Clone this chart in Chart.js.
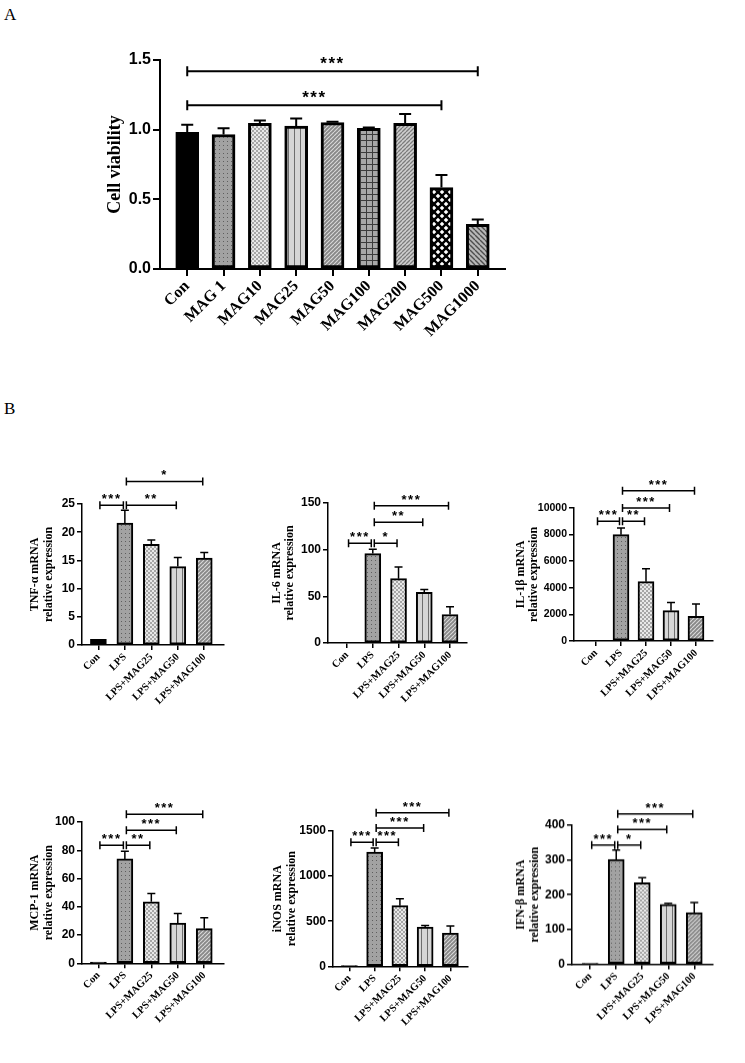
<!DOCTYPE html>
<html lang="en">
<head>
<meta charset="UTF-8">
<title>Cell viability and cytokine mRNA expression</title>
<script src="https://cdn.jsdelivr.net/npm/chart.js@4.4.1/dist/chart.umd.min.js"></script>
<style>
  * { box-sizing: border-box; margin: 0; padding: 0; }
  html, body { width: 745px; height: 1063px; background: #fff; overflow: hidden; }
  body { position: relative; font-family: 'Liberation Serif', 'Times New Roman', serif; }
  .tag { position: absolute; font-size: 17px; color: #000; }
  .box { position: absolute; }
</style>
</head>
<body>
<div class="tag" style="left:4px;top:5px">A</div>
<div class="tag" style="left:4px;top:399px">B</div>
<div class="box"><canvas id="chart-a"></canvas></div>
<div class="box"><canvas id="chart-tnf"></canvas></div>
<div class="box"><canvas id="chart-il6"></canvas></div>
<div class="box"><canvas id="chart-il1b"></canvas></div>
<div class="box"><canvas id="chart-mcp1"></canvas></div>
<div class="box"><canvas id="chart-inos"></canvas></div>
<div class="box"><canvas id="chart-ifn"></canvas></div>

<script>
const SERIF = "'Liberation Serif', 'Times New Roman', serif";
const SANS = "'Liberation Sans', Arial, sans-serif";

// Panel A - cell viability
const viabilityLabels = ['Con', 'MAG 1', 'MAG10', 'MAG25', 'MAG50', 'MAG100', 'MAG200', 'MAG500', 'MAG1000'];
const viabilityMean   = [0.98, 0.965, 1.045, 1.025, 1.05, 1.01, 1.045, 0.585, 0.32];
const viabilityErrTop = [1.035, 1.01, 1.065, 1.08, 1.057, 1.016, 1.113, 0.675, 0.355];
const viabilityTicks  = [0, 0.5, 1.0, 1.5];
// [from, to, height, stars]
const viabilitySig    = [[0, 8, 1.42, '***'], [0, 7, 1.175, '***']];

// Panel B - relative mRNA expression
const groupLabels = ['Con', 'LPS', 'LPS+MAG25', 'LPS+MAG50', 'LPS+MAG100'];

const tnfMean   = [1.0, 21.6, 17.85, 13.9, 15.4];
const tnfErrTop = [1.0, 23.9, 18.6, 15.5, 16.4];
const tnfTicks  = [0, 5, 10, 15, 20, 25];
const tnfSig    = [[0, 1, 24.8, '***'], [1, 3, 24.8, '**'], [1, 4, 29.0, '*']];

const il6Mean   = [0.5, 95.8, 68.9, 54.2, 30.5];
const il6ErrTop = [0.5, 100.5, 81.4, 57.4, 38.8];
const il6Ticks  = [0, 50, 100, 150];
const il6Sig    = [[0, 1, 107, '***'], [1, 2, 107, '*'], [1, 3, 129.5, '**'], [1, 4, 147, '***']];

const il1bMean   = [20, 7995, 4460, 2280, 1850];
const il1bErrTop = [20, 8500, 5440, 2900, 2780];
const il1bTicks  = [0, 2000, 4000, 6000, 8000, 10000];
const il1bSig    = [[0, 1, 9000, '***'], [1, 2, 9000, '**'], [1, 3, 10000, '***'], [1, 4, 11300, '***']];

const mcp1Mean   = [0.95, 73.9, 43.5, 28.5, 24.5];
const mcp1ErrTop = [0.95, 79.3, 49.4, 35.3, 32.2];
const mcp1Ticks  = [0, 20, 40, 60, 80, 100];
const mcp1Sig    = [[0, 1, 83.5, '***'], [1, 2, 83.5, '**'], [1, 3, 94.1, '***'], [1, 4, 105.4, '***']];

const inosMean   = [1, 1267, 672, 436, 369];
const inosErrTop = [1, 1311, 750, 451, 447];
const inosTicks  = [0, 500, 1000, 1500];
const inosSig    = [[0, 1, 1374, '***'], [1, 2, 1374, '***'], [1, 3, 1533, '***'], [1, 4, 1703, '***']];

const ifnMean   = [1, 301.7, 234, 172.5, 148.4];
const ifnErrTop = [1, 328.7, 248.7, 175.4, 177.3];
const ifnTicks  = [0, 100, 200, 300, 400];
const ifnSig    = [[0, 1, 343, '***'], [1, 2, 343, '*'], [1, 3, 387.5, '***'], [1, 4, 432.8, '***']];

// fill patterns (GraphPad style)
function tile(size, paint) {
  const c = document.createElement('canvas');
  c.width = c.height = size;
  const g = c.getContext('2d');
  paint(g, size);
  return g.createPattern(c, 'repeat');
}
function diagonal(g, s, color, width, back) {
  g.strokeStyle = color; g.lineWidth = width;
  g.beginPath();
  for (const k of [-s, 0, s]) {
    if (back) { g.moveTo(k, 0); g.lineTo(k + s, s); }
    else { g.moveTo(k, s); g.lineTo(k + s, 0); }
  }
  g.stroke();
}
const FILLS = {
  solid: '#000',
  dots: tile(4, (g, s) => { g.fillStyle = '#a2a2a2'; g.fillRect(0, 0, s, s); g.fillStyle = '#5e5e5e'; g.fillRect(1, 1, 1, 1); }),
  checker: tile(4, (g, s) => { g.fillStyle = '#e8e8e8'; g.fillRect(0, 0, s, s); g.fillStyle = '#a6a6a6'; g.fillRect(0, 0, 2, 2); g.fillRect(2, 2, 2, 2); }),
  vlines: tile(6, (g, s) => { g.fillStyle = '#d6d6d6'; g.fillRect(0, 0, s, s); g.fillStyle = '#6e6e6e'; g.fillRect(0, 0, 1, s); }),
  diag: tile(4, (g, s) => { g.fillStyle = '#888'; g.fillRect(0, 0, s, s); diagonal(g, s, '#dadada', 1.1, false); }),
  grid: tile(6, (g, s) => { g.fillStyle = '#a8a8a8'; g.fillRect(0, 0, s, s); g.fillStyle = '#3c3c3c'; g.fillRect(0, 0, 1, s); g.fillRect(0, 0, s, 1); }),
  diagLight: tile(4, (g, s) => { g.fillStyle = '#d0d0d0'; g.fillRect(0, 0, s, s); diagonal(g, s, '#7c7c7c', 1.3, false); }),
  diamond: tile(8, (g, s) => { g.fillStyle = '#fff'; g.fillRect(0, 0, s, s); diagonal(g, s, '#000', 2.4, false); diagonal(g, s, '#000', 2.4, true); }),
  diagBack: tile(5, (g, s) => { g.fillStyle = '#b8b8b8'; g.fillRect(0, 0, s, s); diagonal(g, s, '#4e4e4e', 1.4, true); })
};
const viabilityFills = ['solid', 'dots', 'checker', 'vlines', 'diag', 'grid', 'diagLight', 'diamond', 'diagBack'];
const groupFills = ['solid', 'dots', 'checker', 'vlines', 'diag'];

const STYLE_A = { yw: 70, padTop: 40, padRight: 15, xh: 101, barW: 23, border: 3, axisW: 2, tickLen: 7,
  tickFont: 16, labelFont: 16, titleFont: 18, capW: 12, errW: 2, sigFont: 17, sigCap: 5, sigW: 2, sigGap: 0 };
const STYLE_B = { yw: 62, padTop: 52, padRight: 14, xh: 66, barW: 16, border: 2, axisW: 1.5, tickLen: 5,
  tickFont: 12, labelFont: 10.5, titleFont: 12, capW: 8, errW: 1.5, sigFont: 13, sigCap: 4, sigW: 1.5, sigGap: 1.5 };

function makePanel(cfg) {
  const st = cfg.style;
  const canvas = document.getElementById(cfg.id);
  const box = canvas.parentNode;
  const left = cfg.area.l - st.yw, top = cfg.area.t - st.padTop;
  box.style.left = left + 'px';
  box.style.top = top + 'px';
  box.style.width = (cfg.area.r + st.padRight - left) + 'px';
  box.style.height = (cfg.area.b + st.xh - top) + 'px';

  const lineH = st.titleFont * 1.1;
  const titlePad = cfg.titleAt - left - lineH / 2;

  const overlay = {
    id: 'overlay',
    afterDatasetsDraw(chart) {
      const { ctx, scales: { x, y } } = chart;
      ctx.save();
      ctx.strokeStyle = '#000';
      ctx.lineWidth = st.errW;
      cfg.mean.forEach((m, i) => {
        if (cfg.errTop[i] <= m) return;
        const px = x.getPixelForValue(i);
        const y0 = y.getPixelForValue(m), y1 = y.getPixelForValue(cfg.errTop[i]);
        ctx.beginPath();
        ctx.moveTo(px, y0); ctx.lineTo(px, y1);
        ctx.moveTo(px - st.capW / 2, y1); ctx.lineTo(px + st.capW / 2, y1);
        ctx.stroke();
      });
      // significance brackets
      ctx.lineWidth = st.sigW;
      ctx.fillStyle = '#000';
      ctx.font = 'bold ' + st.sigFont + 'px ' + SANS;
      ctx.textAlign = 'center';
      ctx.textBaseline = 'alphabetic';
      if ('letterSpacing' in ctx) ctx.letterSpacing = '1.5px';
      cfg.sig.forEach(([from, to, h, stars]) => {
        const x1 = x.getPixelForValue(from) + st.sigGap;
        const x2 = x.getPixelForValue(to) - st.sigGap;
        const py = y.getPixelForValue(h);
        ctx.beginPath();
        ctx.moveTo(x1, py); ctx.lineTo(x2, py);
        ctx.moveTo(x1, py - st.sigCap); ctx.lineTo(x1, py + st.sigCap);
        ctx.moveTo(x2, py - st.sigCap); ctx.lineTo(x2, py + st.sigCap);
        ctx.stroke();
        ctx.fillText(stars, (x1 + x2) / 2, py - 2);
      });
      ctx.restore();
    }
  };

  return new Chart(canvas, {
    type: 'bar',
    data: {
      datasets: [{
        data: cfg.mean.map((v, i) => ({ x: i, y: v })),
        backgroundColor: cfg.fills.map(f => FILLS[f]),
        borderColor: '#000',
        borderWidth: st.border,
        borderSkipped: false,
        barThickness: st.barW
      }]
    },
    options: {
      responsive: true,
      maintainAspectRatio: false,
      animation: false,
      events: [],
      layout: { padding: { top: st.padTop, right: st.padRight, left: 0, bottom: 0 } },
      plugins: { legend: { display: false }, tooltip: { enabled: false } },
      scales: {
        x: {
          type: 'linear',
          offset: false,
          min: cfg.xMin,
          max: cfg.xMax,
          afterBuildTicks: s => { s.ticks = cfg.labels.map((_, i) => ({ value: i })); },
          afterFit: s => { s.height = st.xh; },
          border: { display: true, color: '#000', width: st.axisW },
          grid: { offset: false, drawOnChartArea: false, drawTicks: true, tickLength: st.tickLen, color: '#000', lineWidth: st.axisW },
          ticks: {
            autoSkip: false, minRotation: 45, maxRotation: 45, padding: 1, color: '#000',
            font: { family: SERIF, weight: 'bold', size: st.labelFont },
            callback: v => cfg.labels[v]
          }
        },
        y: {
          type: 'linear',
          min: cfg.ticks[0],
          max: cfg.ticks[cfg.ticks.length - 1],
          afterBuildTicks: s => { s.ticks = cfg.ticks.map(v => ({ value: v })); },
          afterFit: s => { s.width = st.yw; },
          border: { display: true, color: '#000', width: st.axisW },
          grid: { drawOnChartArea: false, drawTicks: true, tickLength: st.tickLen, color: '#000', lineWidth: st.axisW },
          ticks: {
            padding: 2, color: '#000',
            font: { family: SANS, weight: 'bold', size: cfg.tickFont || st.tickFont },
            callback: cfg.fmt || (v => String(v))
          },
          title: {
            display: true, text: cfg.title, color: '#000',
            font: { family: SERIF, weight: 'bold', size: st.titleFont, lineHeight: 1.1 },
            padding: { top: titlePad, bottom: 0 }
          }
        }
      }
    },
    plugins: [overlay]
  });
}

makePanel({
  id: 'chart-a', style: STYLE_A, labels: viabilityLabels, mean: viabilityMean, errTop: viabilityErrTop,
  ticks: viabilityTicks, sig: viabilitySig, fills: viabilityFills, title: 'Cell viability',
  area: { l: 160, t: 60, r: 505, b: 269 }, xMin: -0.75, xMax: 8.75, titleAt: 115, fmt: v => v.toFixed(1)
});
makePanel({
  id: 'chart-tnf', style: STYLE_B, labels: groupLabels, mean: tnfMean, errTop: tnfErrTop,
  ticks: tnfTicks, sig: tnfSig, fills: groupFills, title: ['TNF-α mRNA', 'relative expression'],
  area: { l: 81.7, t: 504, r: 223, b: 645 }, xMin: -0.62, xMax: 4.72, titleAt: 35
});
makePanel({
  id: 'chart-il6', style: STYLE_B, labels: groupLabels, mean: il6Mean, errTop: il6ErrTop,
  ticks: il6Ticks, sig: il6Sig, fills: groupFills, title: ['IL-6 mRNA', 'relative expression'],
  area: { l: 328, t: 503, r: 467, b: 643 }, xMin: -0.74, xMax: 4.66, titleAt: 277
});
makePanel({
  id: 'chart-il1b', style: STYLE_B, labels: groupLabels, mean: il1bMean, errTop: il1bErrTop,
  ticks: il1bTicks, sig: il1bSig, fills: groupFills, title: ['IL-1β mRNA', 'relative expression'],
  area: { l: 574, t: 508, r: 713, b: 641 }, xMin: -0.88, xMax: 4.68, titleAt: 521, tickFont: 10.5
});
makePanel({
  id: 'chart-mcp1', style: STYLE_B, labels: groupLabels, mean: mcp1Mean, errTop: mcp1ErrTop,
  ticks: mcp1Ticks, sig: mcp1Sig, fills: groupFills, title: ['MCP-1 mRNA', 'relative expression'],
  area: { l: 81.7, t: 821.7, r: 223, b: 963 }, xMin: -0.62, xMax: 4.72, titleAt: 35
});
makePanel({
  id: 'chart-inos', style: STYLE_B, labels: groupLabels, mean: inosMean, errTop: inosErrTop,
  ticks: inosTicks, sig: inosSig, fills: groupFills, title: ['iNOS mRNA', 'relative expression'],
  area: { l: 332.7, t: 830.7, r: 467, b: 966 }, xMin: -0.65, xMax: 4.67, titleAt: 278
});
makePanel({
  id: 'chart-ifn', style: STYLE_B, labels: groupLabels, mean: ifnMean, errTop: ifnErrTop,
  ticks: ifnTicks, sig: ifnSig, fills: groupFills, title: ['IFN-β mRNA', 'relative expression'],
  area: { l: 571.7, t: 825.3, r: 712.7, b: 963.7 }, xMin: -0.7, xMax: 4.72, titleAt: 521
});
</script>
</body>
</html>
